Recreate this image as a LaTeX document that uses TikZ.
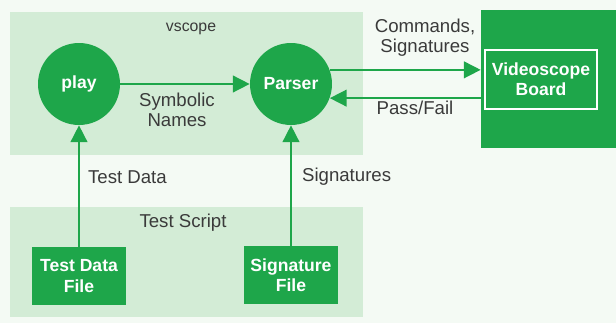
\documentclass[tikz,border=0pt]{standalone}
\usepackage{fontspec}
\setmainfont{Liberation Sans}
\usetikzlibrary{arrows.meta,positioning}
\definecolor{sotet}{RGB}{30,166,74}
\definecolor{halvany}{RGB}{211,236,214}
\definecolor{hatter}{RGB}{244,250,244}
\definecolor{szoveg}{RGB}{58,58,58}
\newcommand{\ksor}{\fontsize{10}{11.5}\selectfont}
\newcommand{\nsor}{\fontsize{10.6}{11.5}\selectfont}
\tikzset{
  terulet/.style={fill=halvany,inner sep=0pt},
  kor/.style={circle,fill=sotet,text=white,font=\ksor\bfseries,minimum size=1.64cm,inner sep=0pt},
  fajl/.style={fill=sotet,text=white,font=\ksor\bfseries,align=center,
               minimum width=1.9cm,minimum height=1.16cm,inner sep=0pt},
  nyil/.style={draw=sotet,line width=0.9pt,-{Triangle[length=9.5pt,width=9.5pt]},color=sotet},
  cimke/.style={text=szoveg,font=\nsor,align=center,inner sep=1pt},
}
\begin{document}
\begin{tikzpicture}[x=0.02cm,y=-0.02cm]
  \fill[hatter] (0,0) rectangle (616,323);
  % background areas
  \node[terulet,minimum width=7.06cm,minimum height=2.86cm] (vscope) at (186.5,83.5) {};
  \node[terulet,minimum width=7.06cm,minimum height=2.2cm] (script) at (186.5,262) {};
  \node[fill=sotet,minimum width=2.7cm,minimum height=2.76cm,inner sep=0pt] (board) at (548.5,79) {};
  \node[draw=white,line width=0.8pt,text=white,font=\ksor\bfseries,align=center,
        minimum width=2.24cm,minimum height=1.18cm,inner sep=0pt] (boardin) at (541,79.5) {Videoscope\\Board};
  \node[cimke,font=\small] at (191,29) {vscope};
  \node[cimke] at (183,223) {Test Script};
  % processes and files
  \node[kor] (play) at (79,84) {play};
  \node[kor] (parser) at (291,84) {Parser};
  \node[fajl] (tdfile) at (79,276) {Test Data\\File};
  \node[fajl] (sigfile) at (291,275) {Signature\\File};
  % connectors
  \draw[nyil] (play) -- (parser);
  \draw[nyil] (tdfile) -- (play);
  \draw[nyil] (sigfile) -- (parser);
  \draw[nyil] (parser.20) -- (parser.20 -| board.west);
  \draw[nyil] (parser.-20 -| board.west) -- (parser.-20);
  \node[cimke] (symb) at (177,110) {Symbolic\\Names};
  \node[cimke] (cmd) at (425,38) {Commands,\\Signatures};
  \node[cimke] (pf) at (415,108) {Pass/Fail};
  \node[cimke,anchor=west] (td) at (86,177) {Test Data};
  \node[cimke,anchor=west] (sig) at (300,177) {Signatures};
\end{tikzpicture}
\end{document}
